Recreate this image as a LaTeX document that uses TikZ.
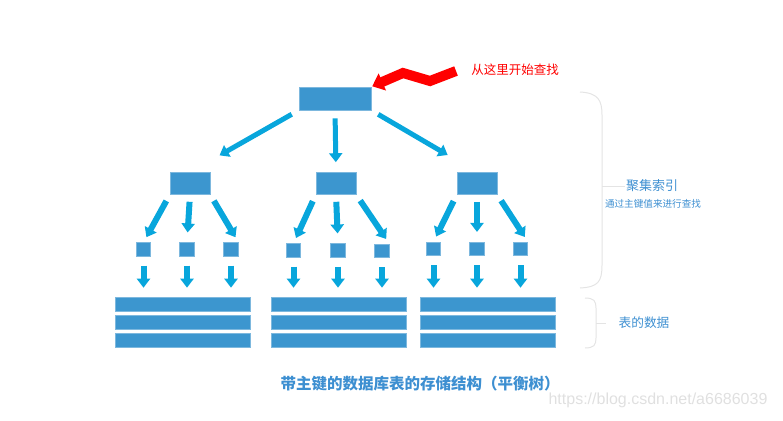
\documentclass[tikz,border=0pt]{standalone}
\usepackage{fontspec}
\setmainfont{Noto Sans CJK SC}
\newfontfamily\latinfont{Liberation Sans}
\usetikzlibrary{arrows.meta}
\definecolor{boxblue}{HTML}{3C96CF}
\definecolor{boxedge}{HTML}{7DB8DE}
\definecolor{arrowcyan}{HTML}{08A6DC}
\definecolor{textblue}{HTML}{3D8FD1}
\definecolor{bracegray}{HTML}{E4E4E4}
\begin{document}
\begin{tikzpicture}[x=1pt, y=-1pt,
  box/.style = {draw=boxedge, line width=0.6pt, fill=boxblue, inner sep=0pt},
  flow/.style = {draw=arrowcyan, line width=5pt, -{Triangle[width=13pt, length=9pt]}},
  brace/.style = {draw=bracegray, line width=1pt},
  label/.style = {text=textblue, inner sep=1pt}]
\useasboundingbox (0,0) rectangle (783,420);
% nodes of the tree
\node[box, minimum width=72pt, minimum height=23pt] (root) at (335,98.5) {};
\node[box, minimum width=40pt, minimum height=22pt] (lbox) at (190,183.5) {};
\node[box, minimum width=40pt, minimum height=22pt] (mbox) at (336,183.5) {};
\node[box, minimum width=40pt, minimum height=22pt] (rbox) at (477,183.5) {};
\foreach \n/\x/\y in {l1/143.5/249.5, l2/187/249.5, l3/231/249.5,
                      m1/293.5/250.5, m2/338/250.5, m3/382/251,
                      r1/433.5/249, r2/477/249, r3/520.5/249}
  \node[box, minimum width=14.5pt, minimum height=13.5pt] (\n) at (\x,\y) {};
% rows of table data
\foreach \r/\y in {1/304, 2/322.5, 3/340} {
  \node[box, minimum width=135pt, minimum height=14pt] (lrow\r) at (182.5,\y) {};
  \node[box, minimum width=135pt, minimum height=14pt] (mrow\r) at (338.5,\y) {};
  \node[box, minimum width=135pt, minimum height=14pt] (rrow\r) at (487.5,\y) {};
}
% level one arrows
\draw[flow, shorten <=8pt, shorten >=34pt] (root.south west) -- (lbox.north);
\draw[flow, shorten <=8pt, shorten >=10pt] (root.south) -- (mbox.north);
\draw[flow, shorten <=8pt, shorten >=34pt] (root.south east) -- (rbox.north);
% level two arrows
\draw[flow, line width=6pt, shorten <=7pt, shorten >=6pt] (lbox.south west) -- (l1.north);
\draw[flow, line width=6pt, shorten <=7pt, shorten >=10pt] (lbox.south) -- (l2.north);
\draw[flow, line width=6pt, shorten <=7pt, shorten >=6pt] (lbox.south east) -- (l3.north east);
\draw[flow, line width=6pt, shorten <=7pt, shorten >=6pt] (mbox.south west) -- (m1.north);
\draw[flow, line width=6pt, shorten <=7pt, shorten >=10pt] (mbox.south) -- (m2.north);
\draw[flow, line width=6pt, shorten <=7pt, shorten >=6pt] (mbox.south east) -- (m3.north east);
\draw[flow, line width=6pt, shorten <=7pt, shorten >=6pt] (rbox.south west) -- (r1.north);
\draw[flow, line width=6pt, shorten <=7pt, shorten >=10pt] (rbox.south) -- (r2.north);
\draw[flow, line width=6pt, shorten <=7pt, shorten >=6pt] (rbox.south east) -- (r3.north east);
% leaf to data arrows
\foreach \n/\g in {l1/l, l2/l, l3/l, m1/m, m2/m, m3/m, r1/r, r2/r, r3/r}
  \draw[flow, line width=6pt, shorten <=9pt, shorten >=9pt] (\n.south) -- (\n.south |- \g row1.north);
% start marker
\coordinate (start) at (456,71);
\draw[red, line width=10pt, line join=miter, -{Triangle[width=18pt, length=11pt]}, shorten >=1pt]
  (start) -- (430,81) -- (403,73) -- (root.north east);
\node[text=red, font=\fontsize{12.5}{14}\selectfont] (begin) at (515,70) {从这里开始查找};
% braces and their texts
\coordinate (bigmid) at (602,186);
\draw[brace] (580,92) .. controls (598,93) and (602,100) .. (602,115) -- (602,265)
  .. controls (602,282) and (598,287) .. (580,288);
\node[label, font=\fontsize{13}{15}\selectfont] (index) at (652,186) {聚集索引};
\draw[brace] (bigmid) -- (index.west);
\node[label, font=\fontsize{9.6}{11}\selectfont] (byKey) at (653,204) {通过主键值来进行查找};
\coordinate (smallmid) at (596,323);
\draw[brace] (585,298) .. controls (594,298) and (596,301) .. (596,308) -- (596,338)
  .. controls (596,345) and (594,348) .. (585,348);
\node[label, font=\fontsize{12.7}{14}\selectfont] (data) at (644,323) {表的数据};
\draw[brace] (smallmid) -- ++(10,0);
% caption and mark
\node[label, font=\fontsize{15.5}{17}\selectfont\bfseries] (caption) at (420,384) {带主键的数据库表的存储结构（平衡树）};
\node[text=black!12, font=\latinfont\fontsize{16}{18}\selectfont] (mark) at (658,400) {https://blog.csdn.net/a6686039};
\end{tikzpicture}
\end{document}
